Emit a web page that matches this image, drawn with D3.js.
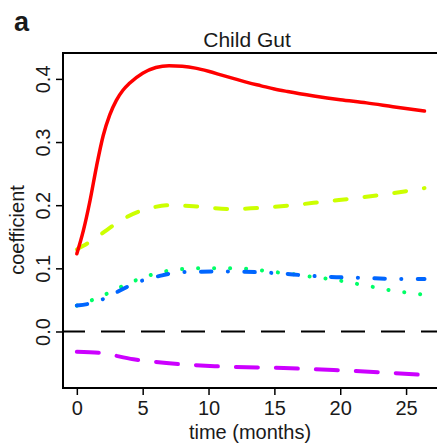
<!DOCTYPE html>
<html>
<head>
<meta charset="utf-8">
<script src="https://cdn.jsdelivr.net/npm/d3@7"></script>
<style>
  html, body { margin: 0; padding: 0; background: #fff; }
  svg { display: block; font-family: "Liberation Sans", Arial, sans-serif; }
</style>
</head>
<body>
<svg id="chart" width="437" height="445"></svg>
<script>
// ---- data ----
const xTicks = [0, 5, 10, 15, 20, 25];
const yTicks = [0.0, 0.1, 0.2, 0.3, 0.4];
const yTickLabels = ["0.0", "0.1", "0.2", "0.3", "0.4"];

const redMonths = [0, 0.5, 1.0, 1.5, 2.0, 2.5, 3.0, 3.5, 4.0, 5.0, 6.0, 7.0, 8.0, 9.0, 10.0, 11.0, 12.0, 13.0, 14.0, 15.0, 16.0, 18.0, 20.0, 22.0, 24.0, 26.4];
const redValues = [0.123, 0.160, 0.207, 0.262, 0.310, 0.343, 0.366, 0.382, 0.393, 0.409, 0.418, 0.421, 0.420, 0.417, 0.412, 0.406, 0.400, 0.394, 0.389, 0.384, 0.380, 0.373, 0.367, 0.362, 0.356, 0.349];

const yellowMonths = [0, 1, 2.3, 3.5, 4.6, 5.7, 6.8, 9.1, 11.6, 14.1, 16.4, 18.9, 21.5, 24, 26.4];
const yellowValues = [0.130, 0.142, 0.161, 0.178, 0.189, 0.196, 0.200, 0.198, 0.194, 0.196, 0.200, 0.206, 0.212, 0.219, 0.227];

const blueMonths = [0, 1.5, 3, 4.6, 6.3, 8, 11.2, 14.6, 17.9, 19.7, 21.5, 24.8, 26.4];
const blueValues = [0.041, 0.047, 0.062, 0.078, 0.088, 0.094, 0.095, 0.093, 0.088, 0.086, 0.085, 0.083, 0.083];

const greenMonths = [0, 1.2, 2.3, 3.4, 4.6, 5.7, 6.9, 8.1, 9.4, 10.6, 11.8, 13.1, 14.3, 15.5, 16.7, 18, 19.2, 20.4, 21.6, 22.9, 24.1, 25.3, 26.4];
const greenValues = [0.041, 0.050, 0.060, 0.071, 0.082, 0.090, 0.096, 0.099, 0.100, 0.100, 0.100, 0.099, 0.096, 0.093, 0.090, 0.086, 0.083, 0.079, 0.074, 0.069, 0.064, 0.061, 0.058];

const magentaMonths = [0, 1.75, 4.3, 6.8, 10.6, 15.7, 19.5, 23.3, 26.4];
const magentaValues = [-0.032, -0.034, -0.044, -0.050, -0.055, -0.058, -0.061, -0.065, -0.069];

const zeroLine = 0;

// ---- layout ----
const svg = d3.select("#chart");
const x = d3.scaleLinear().domain([-1.05, 27.5]).range([63, 439]);
const y = d3.scaleLinear().domain([-0.0895, 0.441]).range([388, 53]);
const [xL, xR] = x.range();
const [yB, yT] = y.range();

const textColor = "#1a1a1a";

// panel letter
svg.append("text").attr("x", 14).attr("y", 31)
  .attr("font-size", 27).attr("font-weight", "bold").attr("fill", textColor).text("a");

// title
svg.append("text").attr("x", 247).attr("y", 47).attr("text-anchor", "middle")
  .attr("font-size", 21).attr("fill", textColor).text("Child Gut");

// box (top, left, bottom; right edge falls outside the picture)
svg.append("path")
  .attr("d", `M${xR + 5},${yT}H${xL}V${yB}H${xR + 5}`)
  .attr("fill", "none").attr("stroke", "#000").attr("stroke-width", 2);

// axes (R-like outward ticks)
const xAxis = d3.axisBottom(x).tickValues(xTicks).tickSize(7).tickPadding(6).tickFormat(d3.format("d"));
const gx = svg.append("g").attr("transform", `translate(0,${yB})`).call(xAxis);
gx.select(".domain").remove();
gx.selectAll(".tick line").attr("stroke", "#000").attr("stroke-width", 1.5);
gx.selectAll(".tick text").attr("font-size", 20).attr("fill", textColor)
  .attr("font-family", "Liberation Sans, Arial, sans-serif");

const yAxis = d3.axisLeft(y).tickValues(yTicks).tickSize(7).tickFormat((d, i) => yTickLabels[i]);
const gy = svg.append("g").attr("transform", `translate(${xL},0)`).call(yAxis);
gy.select(".domain").remove();
gy.selectAll(".tick line").attr("stroke", "#000").attr("stroke-width", 1.5);
gy.selectAll(".tick text")
  .attr("font-size", 20).attr("fill", textColor)
  .attr("font-family", "Liberation Sans, Arial, sans-serif")
  .attr("x", null).attr("dy", null)
  .attr("text-anchor", "middle")
  .attr("transform", "translate(-13,0) rotate(-90)");

// axis titles
svg.append("text").attr("x", 250).attr("y", 439).attr("text-anchor", "middle")
  .attr("font-size", 20).attr("fill", textColor).text("time (months)");
svg.append("text").attr("transform", "translate(24,230) rotate(-90)").attr("text-anchor", "middle")
  .attr("font-size", 20).attr("fill", textColor).text("coefficient");

// zero reference line
svg.append("line")
  .attr("x1", xL).attr("x2", xR + 5).attr("y1", y(zeroLine)).attr("y2", y(zeroLine))
  .attr("stroke", "#000").attr("stroke-width", 2)
  .attr("stroke-dasharray", "24,16").attr("stroke-dashoffset", 2);

// series
const line = d3.line().x(d => x(d[0])).y(d => y(d[1])).curve(d3.curveMonotoneX);
function draw(months, values, color, dash, width) {
  svg.append("path")
    .datum(months.map((m, i) => [m, values[i]]))
    .attr("d", line)
    .attr("fill", "none")
    .attr("stroke", color)
    .attr("stroke-width", width)
    .attr("stroke-linecap", "round")
    .attr("stroke-linejoin", "round")
    .attr("stroke-dasharray", dash);
}

draw(magentaMonths, magentaValues, "#cc00ff", "22,18", 4);
draw(greenMonths, greenValues, "#00ff66", "0.1,15.9", 4);
draw(blueMonths, blueValues, "#0066ff", "10.5,16.4,0.1,16.4", 4);
draw(yellowMonths, yellowValues, "#ccff00", "12,18", 4);
draw(redMonths, redValues, "#ff0000", null, 3.5);
</script>
</body>
</html>
